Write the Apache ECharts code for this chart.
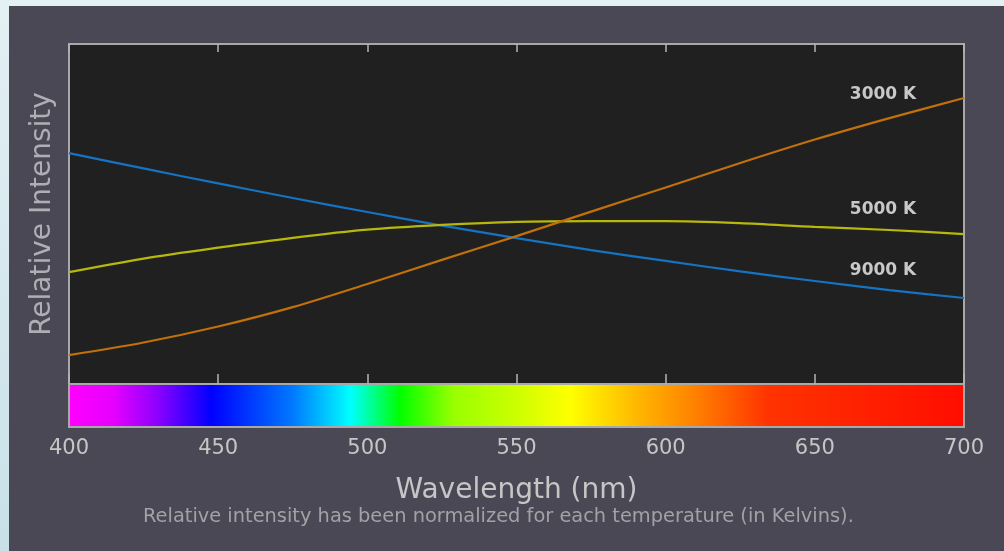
<!DOCTYPE html>
<html>
<head>
<meta charset="utf-8">
<script src="https://cdn.jsdelivr.net/npm/echarts@6/dist/echarts.min.js"></script>
<style>
  html, body { margin: 0; padding: 0; width: 1004px; height: 551px; overflow: hidden;
    background: linear-gradient(to bottom, #e3f0f4, #c9e0e8); }
  #chart { position: absolute; left: 9px; top: 6px; width: 995px; height: 545px; }
</style>
</head>
<body>
<div id="chart"></div>
<script>
// Wavelengths (nm)
const wavelengths = [400, 425, 450, 475, 500, 525, 550, 575, 600, 625, 650, 675, 700];
// Relative intensity (0-100 scale of plot height)
const k3000 = [8.5, 12.2, 16.9, 22.6, 29.4, 36.5, 43.5, 50.7, 57.8, 65.0, 71.9, 78.2, 84.1];
const k5000 = [32.9, 36.9, 40.1, 43.0, 45.4, 46.8, 47.7, 47.9, 47.9, 47.3, 46.2, 45.3, 44.1];
const k9000 = [67.9, 63.4, 59.0, 54.7, 50.6, 46.6, 42.9, 39.4, 36.2, 33.1, 30.3, 27.6, 25.3];
const seriesNames = ['3000 K', '5000 K', '9000 K'];
const xTicks = [400, 450, 500, 550, 600, 650, 700];

const pair = (ys) => wavelengths.map((w, i) => [w, ys[i]]);

const chart = echarts.init(document.getElementById('chart'), null, { renderer: 'canvas' });

const tickColor = '#b4b4b4';
const font = 'DejaVu Sans';

function labelPoint(x, y) {
  return {
    symbolSize: 0,
    data: [{ coord: [x, y] }],
    label: {
      show: true, position: 'left', distance: 0,
      formatter: '{a}', color: '#c8c8c8', fontFamily: font, fontWeight: 'bold', fontSize: 17
    },
    silent: true
  };
}

const option = {
  backgroundColor: '#4a4855',
  animation: false,
  title: {
    text: 'Relative intensity has been normalized for each temperature (in Kelvins).',
    left: 134, top: 501, padding: 0,
    textStyle: { color: '#a2a2a6', fontFamily: font, fontWeight: 'normal', fontSize: 19.4 }
  },
  grid: [
    { left: 60, top: 38, width: 895, height: 340, show: true,
      backgroundColor: '#202020', borderColor: '#a8a8a8', borderWidth: 2 },
    { left: 60, top: 378, width: 895, height: 43, show: true,
      borderColor: '#a8a8a8', borderWidth: 2,
      backgroundColor: {
        type: 'linear', x: 0, y: 0, x2: 1, y2: 0,
        colorStops: [
          { offset: 0.00, color: '#ff00ff' },
          { offset: 0.05, color: '#e600ff' },
          { offset: 0.10, color: '#8c00ff' },
          { offset: 0.16, color: '#0000ff' },
          { offset: 0.25, color: '#0078ff' },
          { offset: 0.315, color: '#00ffff' },
          { offset: 0.37, color: '#00ff00' },
          { offset: 0.43, color: '#99ff00' },
          { offset: 0.50, color: '#ccff00' },
          { offset: 0.56, color: '#ffff00' },
          { offset: 0.63, color: '#ffbb00' },
          { offset: 0.70, color: '#ff8000' },
          { offset: 0.78, color: '#ff3300' },
          { offset: 1.00, color: '#ff0d00' }
        ]
      } }
  ],
  xAxis: [
    { gridIndex: 0, type: 'value', min: 400, max: 700, interval: 50, position: 'bottom',
      axisLine: { show: false }, splitLine: { show: false }, axisLabel: { show: false },
      axisTick: { show: true, inside: true, length: 10, lineStyle: { color: tickColor, width: 1.5 } } },
    { gridIndex: 0, type: 'value', min: 400, max: 700, interval: 50, position: 'top',
      axisLine: { show: false }, splitLine: { show: false }, axisLabel: { show: false },
      axisTick: { show: true, inside: true, length: 8, lineStyle: { color: tickColor, width: 1.5 } } },
    { gridIndex: 1, type: 'value', min: 400, max: 700, interval: 50, position: 'bottom',
      axisLine: { show: false }, splitLine: { show: false }, axisTick: { show: false },
      axisLabel: { show: true, margin: 11, color: '#c6c6c6', fontFamily: font, fontSize: 21,
        formatter: (v) => xTicks.includes(v) ? String(v) : '' },
      name: 'Wavelength (nm)', nameLocation: 'middle', nameGap: 50,
      nameTextStyle: { color: '#c6c6c6', fontFamily: font, fontSize: 28 } }
  ],
  yAxis: [
    { gridIndex: 0, type: 'value', min: 0, max: 100,
      axisLine: { show: false }, axisTick: { show: false }, axisLabel: { show: false }, splitLine: { show: false },
      name: 'Relative Intensity', nameLocation: 'middle', nameGap: 12,
      nameTextStyle: { color: '#aeaeb4', fontFamily: font, fontSize: 28 } },
    { gridIndex: 1, type: 'value', min: 0, max: 1, show: false }
  ],
  series: [
    { name: seriesNames[2], type: 'line', xAxisIndex: 0, yAxisIndex: 0, data: pair(k9000),
      showSymbol: false, smooth: 0.3, lineStyle: { color: '#1673c2', width: 2.2 },
      markPoint: labelPoint(684, 33.5) },
    { name: seriesNames[1], type: 'line', xAxisIndex: 0, yAxisIndex: 0, data: pair(k5000),
      showSymbol: false, smooth: 0.3, lineStyle: { color: '#b7b70c', width: 2.2 },
      markPoint: labelPoint(684, 51.2) },
    { name: seriesNames[0], type: 'line', xAxisIndex: 0, yAxisIndex: 0, data: pair(k3000),
      showSymbol: false, smooth: 0.3, lineStyle: { color: '#c2700a', width: 2.2 },
      markPoint: labelPoint(684, 85.0) }
  ]
};
chart.setOption(option);
</script>
</body>
</html>
